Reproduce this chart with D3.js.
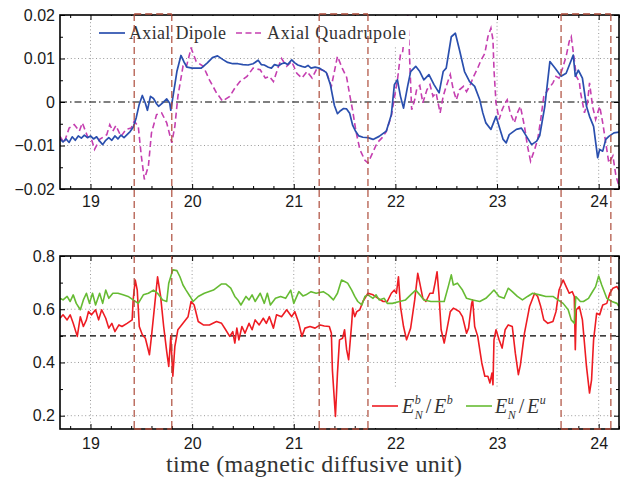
<!DOCTYPE html>
<html><head><meta charset="utf-8">
<script src="https://cdn.jsdelivr.net/npm/d3@7"></script>
<style>body{margin:0;background:#fff}</style>
</head><body>
<svg id="c" width="623" height="477"></svg>
<script>
// ---------------- DATA ----------------
const dipoleT=[18.70,18.73,18.76,18.79,18.82,18.85,18.88,18.91,18.94,18.97,19.00,19.03,19.06,19.09,19.12,19.15,19.18,19.21,19.24,19.27,19.30,19.33,19.36,19.39,19.42,19.45,19.48,19.51,19.54,19.56,19.59,19.62,19.65,19.67,19.71,19.75,19.78,19.79,19.82,19.85,19.89,19.92,19.95,20.00,20.05,20.09,20.15,20.20,20.25,20.30,20.35,20.40,20.45,20.50,20.55,20.60,20.65,20.68,20.71,20.75,20.78,20.81,20.85,20.88,20.91,20.94,20.98,21.01,21.04,21.08,21.11,21.14,21.17,21.21,21.25,21.30,21.32,21.36,21.40,21.43,21.46,21.49,21.52,21.55,21.58,21.61,21.64,21.68,21.73,21.78,21.84,21.91,21.94,21.96,21.99,22.02,22.05,22.08,22.12,22.15,22.20,22.24,22.28,22.33,22.38,22.43,22.47,22.50,22.55,22.59,22.63,22.68,22.73,22.78,22.83,22.86,22.89,22.94,22.99,23.02,23.06,23.09,23.12,23.19,23.24,23.29,23.34,23.39,23.42,23.47,23.52,23.57,23.63,23.68,23.75,23.77,23.80,23.84,23.88,23.91,23.95,23.99,24.01,24.04,24.07,24.10,24.15,24.20];
const dipoleV=[-0.0085,-0.0092,-0.0085,-0.0093,-0.0080,-0.0088,-0.0078,-0.0083,-0.0076,-0.0082,-0.0078,-0.0085,-0.0080,-0.0090,-0.0098,-0.0088,-0.0082,-0.0088,-0.0078,-0.0085,-0.0076,-0.0082,-0.0075,-0.0068,-0.0058,-0.0036,-0.0005,0.0015,-0.0003,-0.0019,0.0013,0.0008,-0.0004,-0.0010,-0.0002,0.0007,-0.0003,-0.0019,0.0025,0.0070,0.0107,0.0092,0.0080,0.0078,0.0078,0.0078,0.0090,0.0102,0.0106,0.0098,0.0091,0.0088,0.0088,0.0086,0.0085,0.0088,0.0096,0.0086,0.0085,0.0080,0.0078,0.0086,0.0083,0.0088,0.0090,0.0086,0.0097,0.0090,0.0085,0.0082,0.0080,0.0084,0.0078,0.0080,0.0078,0.0071,0.0068,0.0040,-0.0008,-0.0027,-0.0020,-0.0015,-0.0016,-0.0026,-0.0054,-0.0068,-0.0078,-0.0081,-0.0082,-0.0086,-0.0079,-0.0067,-0.0045,-0.0029,0.0040,0.0051,0.0013,-0.0014,0.0036,0.0070,0.0082,0.0070,0.0051,0.0063,0.0040,0.0021,0.0070,0.0078,0.0150,0.0158,0.0120,0.0070,0.0047,0.0036,0.0005,-0.0025,-0.0048,-0.0063,-0.0033,-0.0056,-0.0086,-0.0094,-0.0075,-0.0063,-0.0060,-0.0079,-0.0098,-0.0090,-0.0077,-0.0010,0.0093,0.0078,0.0059,0.0066,0.0108,0.0059,0.0073,0.0055,-0.0010,-0.0033,-0.0056,-0.0128,-0.0109,-0.0113,-0.0086,-0.0079,-0.0071,-0.0069];

const quadT=[18.70,18.74,18.79,18.84,18.89,18.92,18.97,19.01,19.04,19.09,19.16,19.19,19.22,19.25,19.30,19.35,19.40,19.43,19.47,19.50,19.53,19.57,19.60,19.65,19.70,19.75,19.80,19.83,19.86,19.91,19.94,19.99,20.04,20.11,20.17,20.24,20.30,20.37,20.42,20.47,20.54,20.60,20.67,20.72,20.76,20.80,20.85,20.88,20.93,20.98,21.03,21.08,21.13,21.18,21.23,21.27,21.32,21.37,21.43,21.48,21.52,21.55,21.58,21.61,21.65,21.70,21.73,21.77,21.82,21.87,21.91,21.96,21.99,22.02,22.05,22.07,22.10,22.12,22.14,22.16,22.19,22.21,22.24,22.27,22.31,22.34,22.37,22.40,22.44,22.47,22.50,22.54,22.57,22.60,22.63,22.67,22.70,22.73,22.77,22.81,22.84,22.88,22.91,22.94,22.96,22.97,22.99,23.02,23.05,23.08,23.10,23.13,23.17,23.20,23.23,23.27,23.30,23.33,23.37,23.40,23.43,23.46,23.50,23.55,23.58,23.61,23.64,23.68,23.71,23.73,23.76,23.78,23.81,23.82,23.86,23.89,23.91,23.94,23.97,24.01,24.04,24.07,24.10,24.14,24.17,24.20];
const quadV=[-0.0079,-0.0094,-0.0060,-0.0052,-0.0067,-0.0048,-0.0079,-0.0086,-0.0109,-0.0086,-0.0075,-0.0052,-0.0067,-0.0054,-0.0079,-0.0063,-0.0060,-0.0044,-0.0056,-0.0124,-0.0178,-0.0147,-0.0071,-0.0029,-0.0025,-0.0048,-0.0094,-0.0056,0.0013,0.0082,0.0078,0.0124,0.0093,0.0082,0.0051,0.0021,0.0002,0.0013,0.0032,0.0047,0.0059,0.0078,0.0074,0.0055,0.0059,0.0047,0.0082,0.0100,0.0082,0.0093,0.0066,0.0055,0.0070,0.0055,0.0078,0.0074,0.0070,0.0036,0.0105,0.0076,0.0057,0.0017,-0.0020,-0.0065,-0.0109,-0.0134,-0.0140,-0.0120,-0.0094,-0.0082,-0.0068,-0.0032,0.0010,0.0050,0.0110,0.0112,0.0180,0.0205,0.0100,-0.0018,0.0005,0.0030,0.0038,-0.0002,0.0028,0.0040,0.0013,0.0021,-0.0025,0.0013,0.0036,0.0063,0.0028,0.0005,0.0028,0.0036,0.0024,0.0036,0.0059,0.0078,0.0095,0.0112,0.0150,0.0170,0.0143,0.0074,-0.0002,-0.0040,-0.0018,-0.0002,0.0005,-0.0025,-0.0048,-0.0025,-0.0010,-0.0056,-0.0102,-0.0136,-0.0109,-0.0086,-0.0040,0.0013,0.0028,0.0044,0.0059,0.0055,0.0074,0.0105,0.0139,0.0150,0.0097,0.0059,0.0047,0.0024,-0.0025,-0.0002,0.0044,-0.0010,-0.0040,-0.0010,-0.0048,-0.0094,-0.0140,-0.0124,-0.0170,-0.0193];

const ebT=[18.70,18.73,18.77,18.80,18.83,18.87,18.90,18.93,18.96,18.98,19.01,19.05,19.08,19.11,19.15,19.18,19.21,19.24,19.28,19.31,19.36,19.41,19.42,19.44,19.46,19.48,19.51,19.54,19.58,19.60,19.63,19.66,19.69,19.72,19.75,19.77,19.79,19.81,19.83,19.86,19.91,19.96,19.99,20.02,20.06,20.11,20.17,20.24,20.29,20.33,20.37,20.40,20.42,20.44,20.46,20.49,20.52,20.56,20.59,20.62,20.66,20.70,20.73,20.76,20.80,20.83,20.88,20.93,20.98,21.01,21.05,21.08,21.11,21.16,21.21,21.26,21.30,21.35,21.37,21.38,21.41,21.43,21.45,21.48,21.50,21.52,21.54,21.57,21.58,21.60,21.62,21.65,21.68,21.73,21.78,21.83,21.88,21.92,21.96,21.99,22.01,22.03,22.05,22.08,22.11,22.15,22.19,22.22,22.24,22.27,22.30,22.34,22.37,22.39,22.41,22.43,22.45,22.48,22.50,22.54,22.57,22.60,22.63,22.66,22.70,22.72,22.75,22.76,22.78,22.81,22.85,22.88,22.91,22.93,22.95,22.96,22.97,22.99,23.02,23.05,23.08,23.11,23.15,23.18,23.21,23.23,23.27,23.32,23.37,23.40,23.43,23.46,23.50,23.55,23.58,23.61,23.65,23.68,23.71,23.74,23.76,23.77,23.78,23.81,23.84,23.86,23.88,23.91,23.93,23.95,23.98,24.01,24.04,24.08,24.11,24.14,24.18,24.20];
const ebV=[0.566,0.579,0.560,0.579,0.547,0.498,0.572,0.535,0.560,0.591,0.579,0.598,0.560,0.598,0.566,0.529,0.547,0.516,0.541,0.535,0.547,0.560,0.635,0.710,0.672,0.535,0.504,0.491,0.429,0.498,0.610,0.722,0.648,0.535,0.441,0.385,0.498,0.348,0.460,0.523,0.547,0.572,0.629,0.616,0.554,0.541,0.541,0.554,0.547,0.523,0.498,0.516,0.473,0.529,0.485,0.535,0.510,0.547,0.523,0.560,0.541,0.566,0.547,0.572,0.529,0.579,0.572,0.598,0.572,0.591,0.547,0.498,0.529,0.535,0.529,0.541,0.537,0.535,0.510,0.372,0.197,0.360,0.485,0.491,0.523,0.448,0.410,0.547,0.604,0.572,0.591,0.598,0.629,0.660,0.654,0.641,0.629,0.629,0.660,0.672,0.660,0.722,0.610,0.535,0.485,0.529,0.635,0.735,0.698,0.641,0.629,0.660,0.660,0.698,0.741,0.648,0.523,0.473,0.510,0.591,0.604,0.598,0.591,0.572,0.510,0.529,0.622,0.635,0.535,0.498,0.398,0.348,0.348,0.323,0.360,0.316,0.485,0.523,0.485,0.454,0.523,0.541,0.535,0.435,0.354,0.391,0.510,0.610,0.660,0.648,0.610,0.560,0.547,0.554,0.591,0.672,0.710,0.685,0.660,0.666,0.648,0.448,0.598,0.610,0.560,0.473,0.385,0.285,0.335,0.485,0.585,0.579,0.616,0.622,0.660,0.679,0.685,0.672];

const euT=[18.70,18.73,18.77,18.80,18.83,18.86,18.90,18.93,18.96,18.99,19.02,19.05,19.09,19.12,19.15,19.18,19.22,19.27,19.32,19.37,19.42,19.47,19.52,19.57,19.62,19.66,19.71,19.75,19.77,19.81,19.85,19.88,19.91,19.94,19.98,20.01,20.06,20.12,20.21,20.29,20.33,20.38,20.42,20.45,20.48,20.53,20.56,20.59,20.62,20.67,20.71,20.74,20.77,20.82,20.87,20.92,20.97,21.00,21.05,21.09,21.12,21.17,21.22,21.29,21.34,21.39,21.43,21.47,21.50,21.53,21.57,21.60,21.63,21.67,21.70,21.73,21.78,21.81,21.84,21.89,21.92,21.97,22.04,22.10,22.15,22.20,22.24,22.28,22.35,22.42,22.48,22.52,22.55,22.57,22.61,22.66,22.70,22.76,22.83,22.89,22.94,22.97,23.02,23.07,23.11,23.15,23.20,23.25,23.30,23.35,23.42,23.48,23.55,23.60,23.65,23.70,23.73,23.76,23.775,23.82,23.85,23.90,23.93,23.97,24.00,24.03,24.08,24.13,24.18,24.20];
const euV=[0.641,0.635,0.648,0.629,0.654,0.622,0.598,0.635,0.660,0.622,0.660,0.616,0.660,0.622,0.672,0.641,0.660,0.660,0.654,0.648,0.635,0.622,0.654,0.660,0.672,0.660,0.635,0.629,0.698,0.748,0.745,0.722,0.691,0.672,0.648,0.629,0.648,0.660,0.672,0.695,0.695,0.679,0.648,0.635,0.616,0.648,0.635,0.654,0.629,0.660,0.622,0.660,0.616,0.641,0.648,0.641,0.672,0.622,0.666,0.650,0.654,0.666,0.660,0.666,0.654,0.635,0.660,0.710,0.704,0.698,0.672,0.648,0.629,0.616,0.648,0.654,0.641,0.654,0.635,0.641,0.622,0.622,0.629,0.635,0.654,0.672,0.654,0.635,0.629,0.629,0.629,0.685,0.729,0.691,0.698,0.672,0.641,0.635,0.629,0.641,0.660,0.672,0.648,0.641,0.679,0.666,0.648,0.635,0.648,0.660,0.654,0.648,0.648,0.635,0.622,0.598,0.560,0.547,0.648,0.629,0.629,0.641,0.660,0.685,0.725,0.691,0.641,0.629,0.622,0.610];

const eventStart=[19.43,21.25,23.63];
const eventEnd=[19.80,21.73,24.12];

const xMajor=[19,20,21,22,23,24];
const topMajor=[-0.02,-0.01,0,0.01,0.02];
const topLabels=["\u22120.02","\u22120.01","0","0.01","0.02"];
const botMajor=[0.2,0.4,0.6,0.8];
const botLabels=["0.2","0.4","0.6","0.8"];

// ---------------- CHART ----------------
const svg=d3.select('#c');
const L=60,R=619;
const x=d3.scaleLinear().domain([18.7,24.2]).range([L,R]);
const yTop=d3.scaleLinear().domain([-0.02,0.02]).range([189,15]);
const yBot=d3.scaleLinear().domain([0.15,0.8]).range([429,256]);
const xMinor=d3.range(18.8,24.21,0.2).map(v=>+v.toFixed(2)).filter(v=>!xMajor.includes(v));
const topMinor=d3.range(-0.02,0.0201,0.005).map(v=>+v.toFixed(3)).filter(v=>!topMajor.includes(v));
const botMinor=[0.3,0.5,0.7];

const SANS='"Liberation Sans", Arial, sans-serif';
const SERIF='"Liberation Serif", "Times New Roman", serif';
const EVC='#ad4c3b';

function panel(y,major,labels,minor,gridY,refVal,refDash,id,labelPad){
  const [y0,y1]=y.range();
  const g=svg.append('g');
  g.append('clipPath').attr('id',id).append('rect').attr('x',L).attr('y',y1).attr('width',R-L).attr('height',y0-y1);
  g.selectAll('.gx').data(xMajor).join('line').attr('x1',d=>x(d)).attr('x2',d=>x(d)).attr('y1',y1).attr('y2',y0)
    .attr('stroke','#9a9a9a').attr('stroke-width',1).attr('stroke-dasharray','1,2.6');
  g.selectAll('.gy').data(gridY).join('line').attr('x1',L).attr('x2',R).attr('y1',d=>y(d)).attr('y2',d=>y(d))
    .attr('stroke','#9a9a9a').attr('stroke-width',1).attr('stroke-dasharray','1,2.6');
  g.append('line').attr('x1',L).attr('x2',R).attr('y1',y(refVal)).attr('y2',y(refVal))
    .attr('stroke','#000').attr('stroke-width',1.1).attr('stroke-dasharray',refDash);
  const plot=g.append('g').attr('clip-path',`url(#${id})`);
  const ax=(a)=>a.call(s=>s.select('.domain').remove()).call(s=>s.selectAll('line').attr('stroke','#000'));
  g.append('g').attr('transform',`translate(0,${y0})`).call(d3.axisBottom(x).tickValues(xMajor).tickSize(-5).tickPadding(labelPad).tickFormat(d3.format('d'))).call(ax)
    .selectAll('text').attr('font-family',SANS).attr('font-size',16).attr('fill','#1a1a1a');
  g.append('g').attr('transform',`translate(0,${y0})`).call(d3.axisBottom(x).tickValues(xMinor).tickSize(-3).tickFormat('')).call(ax);
  g.append('g').attr('transform',`translate(0,${y1})`).call(d3.axisTop(x).tickValues(xMajor).tickSize(-5).tickFormat('')).call(ax);
  g.append('g').attr('transform',`translate(0,${y1})`).call(d3.axisTop(x).tickValues(xMinor).tickSize(-3).tickFormat('')).call(ax);
  g.append('g').attr('transform',`translate(${L},0)`).call(d3.axisLeft(y).tickValues(major).tickSize(-5).tickPadding(5).tickFormat((d,i)=>labels[i])).call(ax)
    .selectAll('text').attr('font-family',SANS).attr('font-size',16).attr('fill','#1a1a1a');
  g.append('g').attr('transform',`translate(${L},0)`).call(d3.axisLeft(y).tickValues(minor).tickSize(-3).tickFormat('')).call(ax);
  g.append('g').attr('transform',`translate(${R},0)`).call(d3.axisRight(y).tickValues(major).tickSize(-5).tickFormat('')).call(ax);
  g.append('g').attr('transform',`translate(${R},0)`).call(d3.axisRight(y).tickValues(minor).tickSize(-3).tickFormat('')).call(ax);
  return {g,plot,y0,y1};
}

const P1=panel(yTop,topMajor,topLabels,topMinor,[-0.01,0.01],0,'7,3,1.5,3','clipTop',7);
const P2=panel(yBot,botMajor,botLabels,botMinor,[0.2,0.4,0.6],0.5,'6,4','clipBot',9);

const lineTop=d3.line().x(d=>x(d[0])).y(d=>yTop(d[1]));
const lineBot=d3.line().x(d=>x(d[0])).y(d=>yBot(d[1]));
const zip=(a,b)=>a.map((t,i)=>[t,b[i]]);

P1.plot.append('path').datum(zip(quadT,quadV)).attr('d',lineTop).attr('fill','none')
  .attr('stroke','#c53fb0').attr('stroke-width',1.6).attr('stroke-dasharray','6,3.5');
P1.plot.append('path').datum(zip(dipoleT,dipoleV)).attr('d',lineTop).attr('fill','none')
  .attr('stroke','#2a4fae').attr('stroke-width',1.7).attr('stroke-linejoin','round');
P2.plot.append('path').datum(zip(ebT,ebV)).attr('d',lineBot).attr('fill','none')
  .attr('stroke','#ee1c23').attr('stroke-width',1.6).attr('stroke-linejoin','round');
P2.plot.append('path').datum(zip(euT,euV)).attr('d',lineBot).attr('fill','none')
  .attr('stroke','#66bb33').attr('stroke-width',1.6).attr('stroke-linejoin','round');

[P1,P2].forEach(P=>{
  P.g.append('rect').attr('x',L).attr('y',P.y1).attr('width',R-L).attr('height',P.y0-P.y1)
    .attr('fill','none').attr('stroke','#000').attr('stroke-width',1.6);
});

// legend top
const lg1=svg.append('g');
lg1.append('rect').attr('x',95).attr('y',16).attr('width',314).attr('height',31).attr('fill','#fff');
lg1.append('line').attr('x1',99).attr('x2',125).attr('y1',33).attr('y2',33).attr('stroke','#2a4fae').attr('stroke-width',1.7);
lg1.append('text').attr('x',129).attr('y',39).attr('font-family',SERIF).attr('font-size',18).attr('fill','#333')
  .attr('textLength',97).attr('lengthAdjust','spacing').text('Axial Dipole');
lg1.append('line').attr('x1',236).attr('x2',263).attr('y1',33).attr('y2',33).attr('stroke','#c53fb0').attr('stroke-width',1.6).attr('stroke-dasharray','6,3.5');
lg1.append('text').attr('x',267).attr('y',39).attr('font-family',SERIF).attr('font-size',18).attr('fill','#333')
  .attr('textLength',139).attr('lengthAdjust','spacing').text('Axial Quadrupole');

// legend bottom
const lg2=svg.append('g');
lg2.append('rect').attr('x',367).attr('y',387).attr('width',194).attr('height',41).attr('fill','#fff');
lg2.append('line').attr('x1',372).attr('x2',398).attr('y1',406).attr('y2',406).attr('stroke','#ee1c23').attr('stroke-width',1.6);
lg2.append('line').attr('x1',466).attr('x2',492).attr('y1',406).attr('y2',406).attr('stroke','#66bb33').attr('stroke-width',1.6);
function measure(s,size,it){
  const t=svg.append('text').attr('font-family',SERIF).attr('font-size',size).attr('font-style',it?'italic':'normal').text(s);
  const w=t.node().getComputedTextLength(); t.remove(); return w;
}
function ratio(gx,gy,sup){
  const wE=measure('E',20,true), wS=measure(sup,12,true), wN=measure('N',12,true), wSl=measure('/',20,false);
  const xs=gx+wE+0.6, xn=gx+wE+0.6;
  const xsl=Math.max(xs+wS, xn+wN)+3, xe2=xsl+wSl+2.5;
  const t=lg2.append('text').attr('x',gx).attr('y',gy).attr('font-family',SERIF).attr('fill','#333');
  t.append('tspan').attr('font-size',20).attr('font-style','italic').text('E');
  t.append('tspan').attr('x',xs).attr('y',gy-9).attr('font-size',12).attr('font-style','italic').text(sup);
  t.append('tspan').attr('x',xn).attr('y',gy+6).attr('font-size',12).attr('font-style','italic').text('N');
  t.append('tspan').attr('x',xsl).attr('y',gy).attr('font-size',20).text('/');
  t.append('tspan').attr('x',xe2).attr('y',gy).attr('font-size',20).attr('font-style','italic').text('E');
  t.append('tspan').attr('x',xe2+wE+0.6).attr('y',gy-9).attr('font-size',12).attr('font-style','italic').text(sup);
}
ratio(402,413,'b');
ratio(495,413,'u');

// event markers
const ev=svg.append('g');
eventStart.forEach((s,i)=>{
  const e=eventEnd[i];
  [s,e].forEach(t=>ev.append('line').attr('x1',x(t)).attr('x2',x(t)).attr('y1',14).attr('y2',429)
    .attr('stroke',EVC).attr('stroke-width',1.2).attr('stroke-dasharray','7,4'));
  [14,429].forEach(yy=>{
    ev.append('line').attr('x1',x(s)).attr('x2',x(e)).attr('y1',yy).attr('y2',yy)
      .attr('stroke',EVC).attr('stroke-width',1.4).attr('stroke-dasharray','7,4');
  });
});

// x label
svg.append('text').attr('x',314).attr('y',472).attr('text-anchor','middle').attr('font-family',SERIF).attr('font-size',24)
  .attr('fill','#333').attr('textLength',296).attr('lengthAdjust','spacing').text('time (magnetic diffusive unit)');
</script>
</body></html>
